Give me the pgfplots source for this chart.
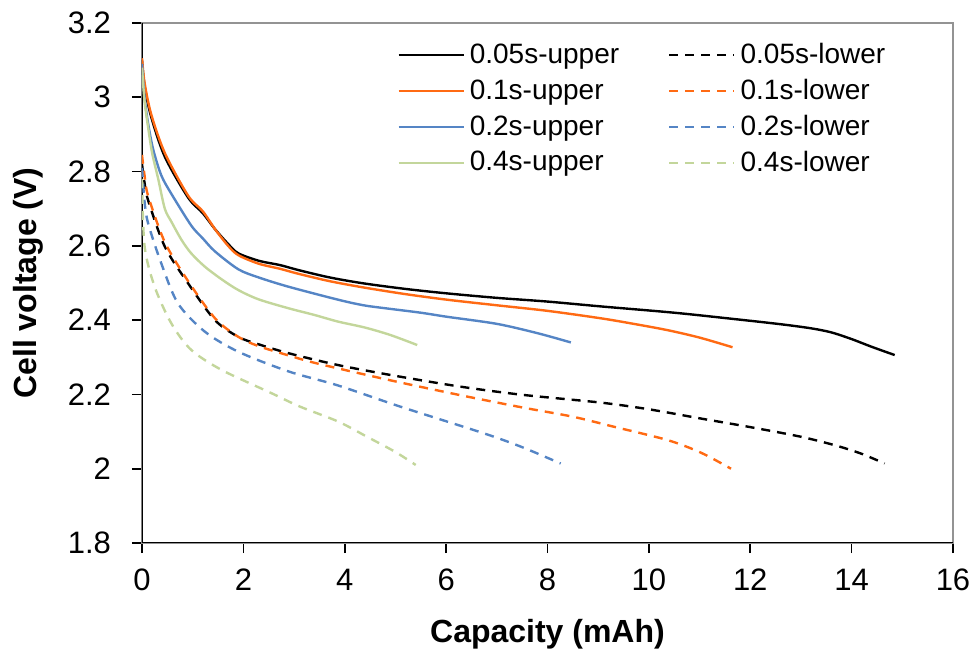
\documentclass[border=0pt]{standalone}
\usepackage{pgfplots}
\pgfplotsset{compat=1.18}
\usepackage{fontspec}
\setmainfont{Liberation Sans}
\definecolor{cOrange}{HTML}{FF6A13}
\definecolor{cBlue}{HTML}{5585C5}
\definecolor{cGreen}{HTML}{C3D69B}
\begin{document}
\begin{tikzpicture}
\useasboundingbox (-71pt,-57.5pt) rectangle (416.5pt,271.5pt);
\begin{axis}[
  at={(0,0)}, anchor=south west,
  width=405.5pt, height=260pt, scale only axis,
  xmin=0, xmax=16, ymin=1.8, ymax=3.2,
  xtick={0,2,4,6,8,10,12,14,16},
  ytick={1.8,2,2.2,2.4,2.6,2.8,3,3.2},
  /pgf/number format/assume math mode=true,
  tick label style={font=\fontsize{15.5}{18}\selectfont},
  yticklabel style={xshift=-7pt},
  xticklabel style={yshift=-4.5pt},
  axis line style={draw=gray!85, line width=0.9pt},
  tick style={black, line width=0.8pt},
  major tick length=5pt,
  tick align=outside,
  xtick pos=left, ytick pos=left,
  xlabel={\textbf{Capacity (mAh)}},
  ylabel={\textbf{Cell voltage (V)}},
  label style={font=\fontsize{16}{19}\selectfont},
  xlabel style={at={(axis description cs:0.5,-0.176)}, anchor=center},
  ylabel style={at={(axis description cs:-0.1406,0.5)}, anchor=center},
  legend columns=2,
  legend cell align=left,
  legend style={at={(rel axis cs:0.3144,1)}, anchor=north west, yshift=-9pt,
    draw=none, fill=none, inner xsep=0pt, inner ysep=0pt,
    font=\fontsize{14}{17}\selectfont, row sep=4.3pt,
    nodes={inner xsep=2.5pt, inner ysep=1pt}},
  /tikz/every even column/.append style={column sep=22pt},
  legend image code/.code={\draw[#1] (0pt,0pt) -- (32.5pt,0pt);},
  every axis plot/.append style={line width=1.2pt, smooth, line join=round},
]
\draw[black, line width=1pt] (rel axis cs:0,1) -- (rel axis cs:0,0) -- (rel axis cs:1,0);

% 0.05s-upper
\addplot[black] coordinates {
(0,3.10) (0.05,3.03) (0.18,2.948) (0.45,2.84) (0.91,2.73) (1.2,2.688) (1.44,2.645)
(1.7,2.605) (1.9,2.58) (2.3,2.56) (2.73,2.548) (3.08,2.535) (3.7,2.515) (4.37,2.499)
(5.2,2.484) (6.02,2.472) (7,2.46) (8,2.45) (9.05,2.437) (10.5,2.42)
(11.68,2.403) (12.6,2.389) (13.2,2.378) (13.6,2.367) (14.0,2.349) (14.4,2.328) (14.85,2.306)};
\addlegendentry{0.05s-upper}
% 0.05s-lower
\addplot[black, dash pattern=on 4.5pt off 3.5pt] coordinates {
(0,2.82) (0.05,2.77) (0.12,2.723) (0.45,2.598) (0.91,2.499) (1.44,2.40) (1.9,2.355)
(2.3,2.335) (2.89,2.311) (3.87,2.279) (5,2.25) (6.28,2.221) (7.5,2.199) (9.05,2.178)
(10,2.16) (11.03,2.135) (12,2.112) (13.0,2.086) (13.7,2.062) (14.2,2.04) (14.65,2.014)};
\addlegendentry{0.05s-lower}
% 0.1s-upper
\addplot[cOrange] coordinates {
(0,3.105) (0.05,3.04) (0.18,2.955) (0.45,2.85) (0.91,2.735) (1.2,2.693) (1.44,2.645)
(1.7,2.60) (1.9,2.575) (2.3,2.552) (2.73,2.538) (3.08,2.525) (3.7,2.505) (4.37,2.488)
(5.2,2.47) (6.02,2.455) (7,2.44) (8,2.425) (9.05,2.405) (9.7,2.39) (10.37,2.373)
(11,2.353) (11.65,2.327)};
\addlegendentry{0.1s-upper}
% 0.1s-lower
\addplot[cOrange, dash pattern=on 4.5pt off 3.5pt] coordinates {
(0,2.845) (0.05,2.79) (0.12,2.735) (0.45,2.61) (0.91,2.505) (1.44,2.405) (1.9,2.355)
(2.3,2.33) (2.89,2.305) (3.32,2.288) (3.87,2.27) (5,2.235) (6.28,2.198) (7.5,2.165)
(8.5,2.14) (9.31,2.113) (10.37,2.077) (11.03,2.043) (11.62,2.0)};
\addlegendentry{0.1s-lower}
% 0.2s-upper
\addplot[cBlue] coordinates {
(0,3.09) (0.05,3.0) (0.12,2.93) (0.22,2.86) (0.38,2.79) (0.58,2.74) (0.97,2.655)
(1.2,2.62) (1.44,2.585) (1.9,2.537) (2.3,2.515) (2.89,2.49) (3.87,2.455) (4.37,2.44)
(4.8,2.432) (5.5,2.42) (6.02,2.409) (7,2.39) (7.8,2.365) (8.46,2.34)};
\addlegendentry{0.2s-upper}
% 0.2s-lower
\addplot[cBlue, dash pattern=on 4.5pt off 3.5pt] coordinates {
(0,2.81) (0.05,2.72) (0.12,2.661) (0.38,2.553) (0.71,2.445) (1.24,2.369) (1.9,2.315)
(2.89,2.262) (3.87,2.224) (5.10,2.167) (6.75,2.095) (7.5,2.058) (8.26,2.014)};
\addlegendentry{0.2s-lower}
% 0.4s-upper
\addplot[cGreen] coordinates {
(0,3.08) (0.05,2.99) (0.12,2.92) (0.2,2.85) (0.32,2.78) (0.45,2.70) (0.58,2.665)
(0.78,2.616) (0.97,2.58) (1.24,2.544) (1.57,2.51) (1.9,2.481) (2.3,2.456) (2.89,2.432)
(3.4,2.414) (3.87,2.396) (4.4,2.38) (4.9,2.36) (5.43,2.333)};
\addlegendentry{0.4s-upper}
% 0.4s-lower
\addplot[cGreen, dash pattern=on 4.5pt off 3.5pt] coordinates {
(0,2.78) (0.05,2.60) (0.25,2.49) (0.58,2.391) (0.97,2.32) (1.57,2.266) (2.56,2.203)
(3.12,2.167) (3.87,2.127) (4.44,2.086) (5.0,2.045) (5.40,2.01)};
\addlegendentry{0.4s-lower}
\end{axis}
\end{tikzpicture}
\end{document}
